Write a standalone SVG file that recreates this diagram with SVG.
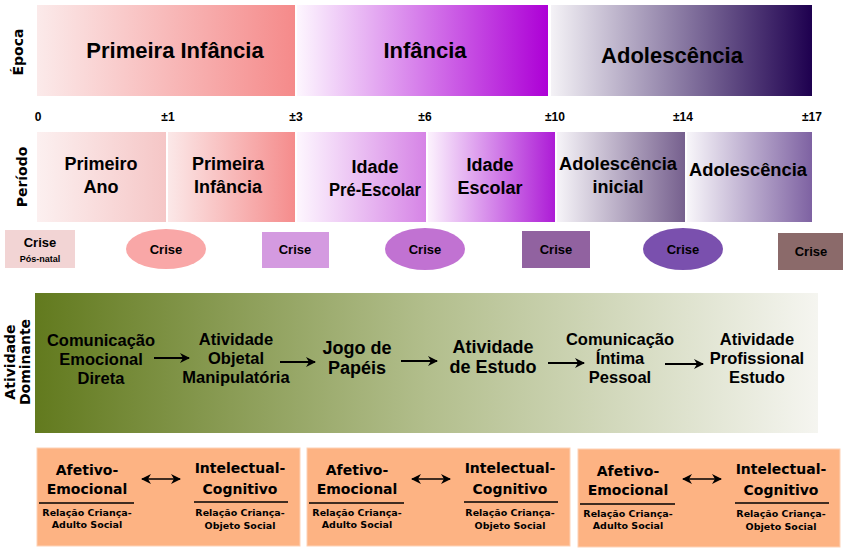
<svg xmlns="http://www.w3.org/2000/svg" width="843" height="548" viewBox="0 0 843 548">
<defs>
<linearGradient id="gE1"><stop offset="0" stop-color="#fbeaea"/><stop offset="1" stop-color="#f58a8a"/></linearGradient>
<linearGradient id="gE2"><stop offset="0" stop-color="#fdf6fe"/><stop offset="1" stop-color="#ad00d6"/></linearGradient>
<linearGradient id="gE3"><stop offset="0" stop-color="#f4f2f6"/><stop offset="1" stop-color="#1e004f"/></linearGradient>
<linearGradient id="gP1"><stop offset="0" stop-color="#fcf0f0"/><stop offset="1" stop-color="#f5c6c6"/></linearGradient>
<linearGradient id="gP2"><stop offset="0" stop-color="#fbe8e8"/><stop offset="1" stop-color="#f58c8c"/></linearGradient>
<linearGradient id="gP3"><stop offset="0" stop-color="#fdf6fe"/><stop offset="1" stop-color="#d684e6"/></linearGradient>
<linearGradient id="gP4"><stop offset="0" stop-color="#fcf2fd"/><stop offset="1" stop-color="#ad1cd6"/></linearGradient>
<linearGradient id="gP5"><stop offset="0" stop-color="#f6f4f8"/><stop offset="1" stop-color="#76608e"/></linearGradient>
<linearGradient id="gP6"><stop offset="0" stop-color="#f8f6fa"/><stop offset="1" stop-color="#7e62a2"/></linearGradient>
<linearGradient id="gA"><stop offset="0" stop-color="#627a1e"/><stop offset="0.5" stop-color="#b2be8c"/><stop offset="1" stop-color="#f5f5f0"/></linearGradient>
<marker id="ah" viewBox="0 0 10 10" refX="9" refY="5" markerWidth="10" markerHeight="10" markerUnits="userSpaceOnUse" orient="auto-start-reverse"><path d="M0,0 L10,5 L0,10 L3,5 Z" fill="#000"/></marker>
</defs>
<style>
text{font-family:"Liberation Sans",Arial,sans-serif;font-weight:bold;fill:#000;text-anchor:middle}
.big{font-size:22px}
.per{font-size:18px}
.side{font-family:"DejaVu Sans",Verdana,sans-serif;font-size:14px}
.tick{font-size:12px}
.crise{font-size:13px}
.act{font-size:16.5px}
.bx{font-family:"DejaVu Sans",Verdana,sans-serif;font-size:14px}
.sm{font-family:"DejaVu Sans",Verdana,sans-serif;font-size:9.5px}
.conn line{stroke:#000;stroke-width:2;marker-end:url(#ah)}
.conn line.dbl{stroke-width:1.5;marker-start:url(#ah)}
.rule{stroke:#000;stroke-width:1.3}
.peach{fill:#fdb383;stroke:#fdd2b6;stroke-width:1}
</style>
<rect width="843" height="548" fill="#fff"/>

<text class="side" transform="translate(23,52) rotate(-90)">Época</text>
<g id="epoca1"><rect x="37" y="5" width="258" height="91" fill="url(#gE1)"/><text class="big" x="175" y="58">Primeira Infância</text></g>
<g id="epoca2"><rect x="297" y="5" width="251" height="91" fill="url(#gE2)"/><text class="big" x="425" y="58">Infância</text></g>
<g id="epoca3"><rect x="551" y="5" width="261" height="91" fill="url(#gE3)"/><text class="big" x="672" y="63">Adolescência</text></g>

<g id="ticks">
<text class="tick" x="38" y="121">0</text>
<text class="tick" x="168" y="121">±1</text>
<text class="tick" x="296" y="121">±3</text>
<text class="tick" x="425" y="121">±6</text>
<text class="tick" x="555" y="121">±10</text>
<text class="tick" x="683" y="121">±14</text>
<text class="tick" x="812" y="121">±17</text>
</g>

<text class="side" transform="translate(27,177) rotate(-90)">Período</text>
<g id="p1"><rect x="37" y="132" width="129" height="90" fill="url(#gP1)"/><text class="per" x="101" y="170">Primeiro</text><text class="per" x="101" y="193">Ano</text></g>
<g id="p2"><rect x="168" y="132" width="127" height="90" fill="url(#gP2)"/><text class="per" x="228" y="170">Primeira</text><text class="per" x="228" y="193">Infância</text></g>
<g id="p3"><rect x="297" y="132" width="129" height="90" fill="url(#gP3)"/><text class="per" x="375" y="173">Idade</text><text class="per" x="375" y="196" textLength="92" lengthAdjust="spacingAndGlyphs">Pré-Escolar</text></g>
<g id="p4"><rect x="428" y="132" width="127" height="90" fill="url(#gP4)"/><text class="per" x="490" y="171">Idade</text><text class="per" x="490" y="194">Escolar</text></g>
<g id="p5"><rect x="557" y="132" width="128" height="90" fill="url(#gP5)"/><text class="per" x="618" y="170" textLength="118" lengthAdjust="spacingAndGlyphs">Adolescência</text><text class="per" x="618" y="193">inicial</text></g>
<g id="p6"><rect x="687" y="132" width="125" height="90" fill="url(#gP6)"/><text class="per" x="748" y="176" textLength="118" lengthAdjust="spacingAndGlyphs">Adolescência</text></g>

<g id="c0"><rect x="5" y="230" width="70" height="38" fill="#f2d4d4"/><text class="crise" x="40" y="247">Crise</text><text x="40" y="262" style="font-size:9px">Pós-natal</text></g>
<g id="c1"><ellipse cx="166" cy="249" rx="40" ry="20" fill="#f9a7a7"/><text class="crise" x="166" y="254">Crise</text></g>
<g id="c2"><rect x="262" y="232" width="67" height="36" fill="#d49ae0"/><text class="crise" x="295" y="254">Crise</text></g>
<g id="c3"><ellipse cx="425" cy="249" rx="40" ry="21" fill="#c172d2"/><text class="crise" x="425" y="254">Crise</text></g>
<g id="c4"><rect x="522" y="231" width="68" height="37" fill="#9162a0"/><text class="crise" x="556" y="254">Crise</text></g>
<g id="c5"><ellipse cx="683" cy="249" rx="40" ry="21" fill="#7a50ae"/><text class="crise" x="683" y="254">Crise</text></g>
<g id="c6"><rect x="778" y="233" width="65" height="37" fill="#8b6a6a"/><text class="crise" x="811" y="256">Crise</text></g>

<text class="side" transform="translate(15,362) rotate(-90)">Atividade</text>
<text class="side" transform="translate(30,362) rotate(-90)">Dominante</text>
<rect id="atividade-fundo" x="35" y="293" width="783" height="140" fill="url(#gA)"/>
<g id="a1"><text class="act" x="101" y="346">Comunicação</text><text class="act" x="101" y="365">Emocional</text><text class="act" x="101" y="384">Direta</text></g>
<g id="a2"><text class="act" x="236" y="345">Atividade</text><text class="act" x="236" y="364">Objetal</text><text class="act" x="236" y="383">Manipulatória</text></g>
<g id="a3"><text class="act" x="357" y="354" style="font-size:18px">Jogo de</text><text class="act" x="357" y="374" style="font-size:18px">Papéis</text></g>
<g id="a4"><text class="act" x="493" y="353" style="font-size:18px">Atividade</text><text class="act" x="493" y="373" style="font-size:18px">de Estudo</text></g>
<g id="a5"><text class="act" x="620" y="345">Comunicação</text><text class="act" x="620" y="364">Íntima</text><text class="act" x="620" y="383">Pessoal</text></g>
<g id="a6"><text class="act" x="757" y="345">Atividade</text><text class="act" x="757" y="364">Profissional</text><text class="act" x="757" y="383">Estudo</text></g>

<g id="rel1">
<rect class="peach" x="37" y="448" width="263" height="98"/>
<text class="bx" x="87" y="475">Afetivo-</text><text class="bx" x="87" y="494">Emocional</text>
<line class="rule" x1="39" y1="503" x2="134" y2="503"/>
<text class="sm" x="87" y="516">Relação Criança-</text><text class="sm" x="87" y="528">Adulto Social</text>
<text class="bx" x="240" y="473">Intelectual-</text><text class="bx" x="240" y="494">Cognitivo</text>
<line class="rule" x1="194" y1="502" x2="288" y2="502"/>
<text class="sm" x="240" y="516">Relação Criança-</text><text class="sm" x="240" y="529">Objeto Social</text>
</g>
<g id="rel2">
<rect class="peach" x="307" y="448" width="263" height="98"/>
<text class="bx" x="357" y="475">Afetivo-</text><text class="bx" x="357" y="494">Emocional</text>
<line class="rule" x1="309" y1="503" x2="404" y2="503"/>
<text class="sm" x="357" y="516">Relação Criança-</text><text class="sm" x="357" y="528">Adulto Social</text>
<text class="bx" x="510" y="473">Intelectual-</text><text class="bx" x="510" y="494">Cognitivo</text>
<line class="rule" x1="464" y1="502" x2="558" y2="502"/>
<text class="sm" x="510" y="516">Relação Criança-</text><text class="sm" x="510" y="529">Objeto Social</text>
</g>
<g id="rel3">
<rect class="peach" x="578" y="449" width="262" height="98"/>
<text class="bx" x="628" y="476">Afetivo-</text><text class="bx" x="628" y="495">Emocional</text>
<line class="rule" x1="580" y1="504" x2="675" y2="504"/>
<text class="sm" x="628" y="517">Relação Criança-</text><text class="sm" x="628" y="529">Adulto Social</text>
<text class="bx" x="781" y="474">Intelectual-</text><text class="bx" x="781" y="495">Cognitivo</text>
<line class="rule" x1="735" y1="503" x2="829" y2="503"/>
<text class="sm" x="781" y="517">Relação Criança-</text><text class="sm" x="781" y="530">Objeto Social</text>
</g>

<g id="connectors" class="conn">
<line x1="154" y1="358" x2="189" y2="358"/>
<line x1="280" y1="362" x2="315" y2="362"/>
<line x1="401" y1="361" x2="437" y2="361"/>
<line x1="548" y1="363" x2="584" y2="363"/>
<line x1="665" y1="364" x2="703" y2="364"/>
<line class="dbl" x1="142" y1="479" x2="180" y2="479"/>
<line class="dbl" x1="412" y1="479" x2="450" y2="479"/>
<line class="dbl" x1="683" y1="479" x2="721" y2="479"/>
</g>
</svg>
